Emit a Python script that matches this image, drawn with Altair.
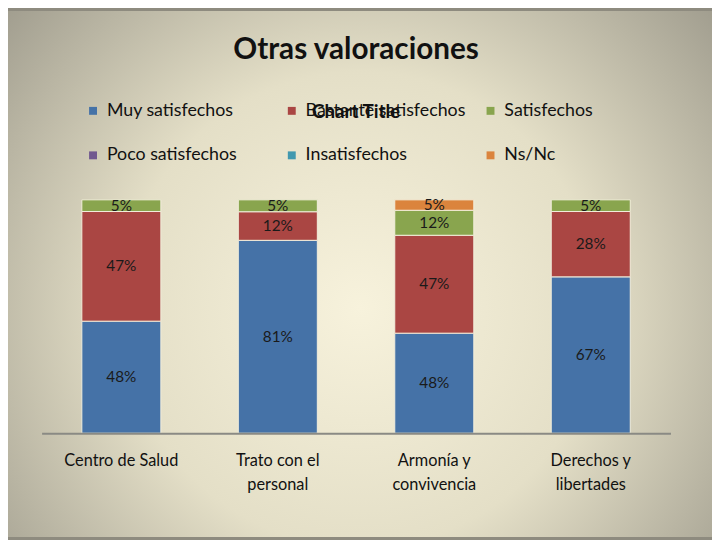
import altair as alt
import pandas as pd

categories = ["Centro de Salud", "Trato con el personal", "Armonía y convivencia", "Derechos y libertades"]
series = ["Muy satisfechos", "Bastante satisfechos", "Satisfechos", "Poco satisfechos", "Insatisfechos", "Ns/Nc"]
colors = ["#4572A7", "#AA4643", "#89A54E", "#71588F", "#4198AF", "#DB843D"]

muy_satisfechos = [48, 81, 48, 67]
bastante_satisfechos = [47, 12, 47, 28]
satisfechos = [5, 5, 12, 5]
poco_satisfechos = [None, None, None, None]
insatisfechos = [None, None, None, None]
ns_nc = [None, None, 5, None]

all_values = [muy_satisfechos, bastante_satisfechos, satisfechos, poco_satisfechos, insatisfechos, ns_nc]
rows = []
for si, (s, vals) in enumerate(zip(series, all_values)):
    for c, v in zip(categories, vals):
        if v is not None:
            rows.append({"cat": c, "serie": s, "ord": si, "value": v, "lbl": f"{v}%"})
df = pd.DataFrame(rows)

W, H = 636, 236
PL, PT, PR, PB = 34, 191, 42, 105
FONT = "Lato"

bg = alt.Chart(alt.Data(values=[{"a": 1}])).mark_rect(
    color=alt.Gradient(
        gradient="radial", x1=0.5, y1=0.55, r1=0, x2=0.5, y2=0.55, r2=0.75,
        stops=[alt.GradientStop(color="#f7f2dc", offset=0),
               alt.GradientStop(color="#e4dfc7", offset=0.45),
               alt.GradientStop(color="#8e8b7f", offset=1)]
    )
).encode(
    x=alt.value(-PL), x2=alt.value(W + PR), y=alt.value(-PT), y2=alt.value(H + PB)
)

base = alt.Chart(df).transform_stack(
    stack="value", groupby=["cat"], as_=["y0", "y1"], offset="normalize",
    sort=[alt.SortField("ord", order="ascending")]
).transform_calculate(mid="(datum.y0 + datum.y1) / 2")

label_expr = ("datum.label == 'Trato con el personal' ? ['Trato con el', 'personal'] : "
              "datum.label == 'Armonía y convivencia' ? ['Armonía y', 'convivencia'] : "
              "datum.label == 'Derechos y libertades' ? ['Derechos y', 'libertades'] : datum.label")

xaxis = alt.Axis(labelAngle=0, ticks=False, domainColor="#8a8a84", domainWidth=2,
                 labelFont=FONT, labelFontSize=16.5, labelColor="#111",
                 labelPadding=20, labelLineHeight=24, labelBaseline="top",
                 labelExpr=label_expr, zindex=2)

bars = base.mark_bar(stroke="#f2eedc", strokeWidth=1).encode(
    x=alt.X("cat:N", sort=categories, title=None,
            scale=alt.Scale(paddingInner=0.495, paddingOuter=0.257), axis=xaxis),
    y=alt.Y("y0:Q", scale=alt.Scale(domain=[0, 1]), axis=None),
    y2="y1:Q",
    color=alt.Color("serie:N", scale=alt.Scale(domain=series, range=colors),
                    legend=alt.Legend(title=None, orient="none", legendX=43, legendY=-99,
                                      columns=3, direction="horizontal", gridAlign="all",
                                      columnPadding=16, rowPadding=27, padding=0,
                                      symbolType="square", symbolSize=64, symbolStrokeWidth=0,
                                      labelFont=FONT, labelFontSize=18, labelColor="#111",
                                      labelOffset=5, labelLimit=300)),
)

text = base.mark_text(font=FONT, fontSize=15.5, color="#1a1a1a").encode(
    x=alt.X("cat:N", sort=categories, title=None, axis=xaxis),
    y=alt.Y("mid:Q", axis=None),
    text="lbl:N",
)

chart = alt.layer(bg, bars, text).properties(
    width=W, height=H,
    title=alt.TitleParams("Otras valoraciones", subtitle="Chart Title", anchor="middle",
                          font=FONT, fontSize=30, fontWeight="bold", color="#111",
                          subtitleFont=FONT, subtitleFontSize=19, subtitleFontWeight="bold",
                          subtitleColor="#111", subtitlePadding=38, offset=-112),
    autosize=alt.AutoSizeParams(type="none"),
    padding={"left": PL, "top": PT, "right": PR, "bottom": PB},
    background="#8e8b7f",
).configure_view(stroke=None)

chart.save("out.html", embed_options={"renderer": "svg", "actions": False})
